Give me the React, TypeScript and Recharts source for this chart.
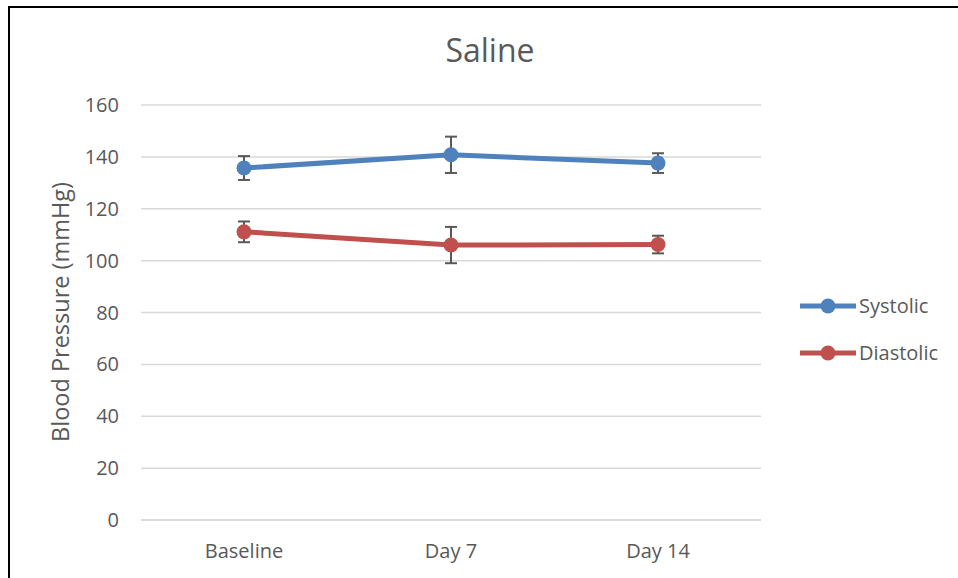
import { LineChart, Line, XAxis, YAxis, CartesianGrid, ErrorBar } from 'recharts';

const categories = ['Baseline', 'Day 7', 'Day 14'];
const systolic = [135.7, 140.8, 137.6];
const systolicErr = [4.6, 7, 3.8];
const diastolic = [111.1, 106, 106.2];
const diastolicErr = [4, 7, 3.4];
const yTicks = [0, 20, 40, 60, 80, 100, 120, 140, 160];

const data = categories.map((c, i) => ({
  category: c,
  Systolic: systolic[i],
  sysErr: systolicErr[i],
  Diastolic: diastolic[i],
  diaErr: diastolicErr[i],
}));

const BLUE = '#4F81BD';
const RED = '#C0504D';
const TEXT = '#595959';
const FONT = '"Open Sans", sans-serif';

const series = [
  { name: 'Systolic', color: BLUE },
  { name: 'Diastolic', color: RED },
];

function LegendBox() {
  return (
    <div style={{ position: 'absolute', left: 790, top: 274, fontFamily: FONT, fontSize: 20, color: TEXT }}>
      {series.map((s) => (
        <div key={s.name} style={{ display: 'flex', alignItems: 'center', height: 47 }}>
          <svg width={56} height={16} style={{ marginRight: 3 }}>
            <line x1={0} y1={8} x2={56} y2={8} stroke={s.color} strokeWidth={5} />
            <circle cx={28} cy={8} r={7.5} fill={s.color} />
          </svg>
          <span>{s.name}</span>
        </div>
      ))}
    </div>
  );
}

export default function App() {
  return (
    <div style={{ position: 'fixed', left: 8, top: 6, width: 950, height: 570, border: '2px solid #000', background: '#fff' }}>
      <div style={{ position: 'absolute', left: 0, width: 960, top: 23, textAlign: 'center', fontFamily: FONT, fontSize: 32, lineHeight: '38px', color: TEXT }}>
        Saline
      </div>
      <LineChart width={950} height={570} data={data} margin={{ top: 97, right: 199, bottom: 28, left: 71 }}>
        <CartesianGrid vertical={false} stroke="#d9d9d9" strokeWidth={1.5} />
        <XAxis
          dataKey="category"
          padding={{ left: 103, right: 103 }}
          axisLine={{ stroke: '#d9d9d9', strokeWidth: 1.5 }}
          tickLine={false}
          tickSize={0}
          tickMargin={24}
          height={30}
          tick={{ fill: TEXT, fontSize: 20, fontFamily: FONT }}
        />
        <YAxis
          domain={[0, 160]}
          ticks={yTicks}
          width={60}
          axisLine={false}
          tickLine={false}
          tickSize={0}
          tickMargin={22}
          tick={{ fill: TEXT, fontSize: 20, fontFamily: FONT }}
          label={{
            content: () => (
              <text x={50} y={304} transform="rotate(-90, 50, 304)" textAnchor="middle" dominantBaseline="central" fill={TEXT} fontSize={23.5} fontFamily={FONT}>
                Blood Pressure (mmHg)
              </text>
            ),
          }}
        />
        <Line
          type="linear"
          dataKey="Systolic"
          stroke={BLUE}
          strokeWidth={5}
          dot={{ r: 7.5, fill: BLUE, stroke: BLUE, strokeWidth: 0 }}
          activeDot={false}
          isAnimationActive={false}
        >
          <ErrorBar dataKey="sysErr" direction="y" width={6} stroke="#595959" strokeWidth={2} />
        </Line>
        <Line
          type="linear"
          dataKey="Diastolic"
          stroke={RED}
          strokeWidth={5}
          dot={{ r: 7.5, fill: RED, stroke: RED, strokeWidth: 0 }}
          activeDot={false}
          isAnimationActive={false}
        >
          <ErrorBar dataKey="diaErr" direction="y" width={6} stroke="#595959" strokeWidth={2} />
        </Line>
      </LineChart>
      <LegendBox />
    </div>
  );
}
